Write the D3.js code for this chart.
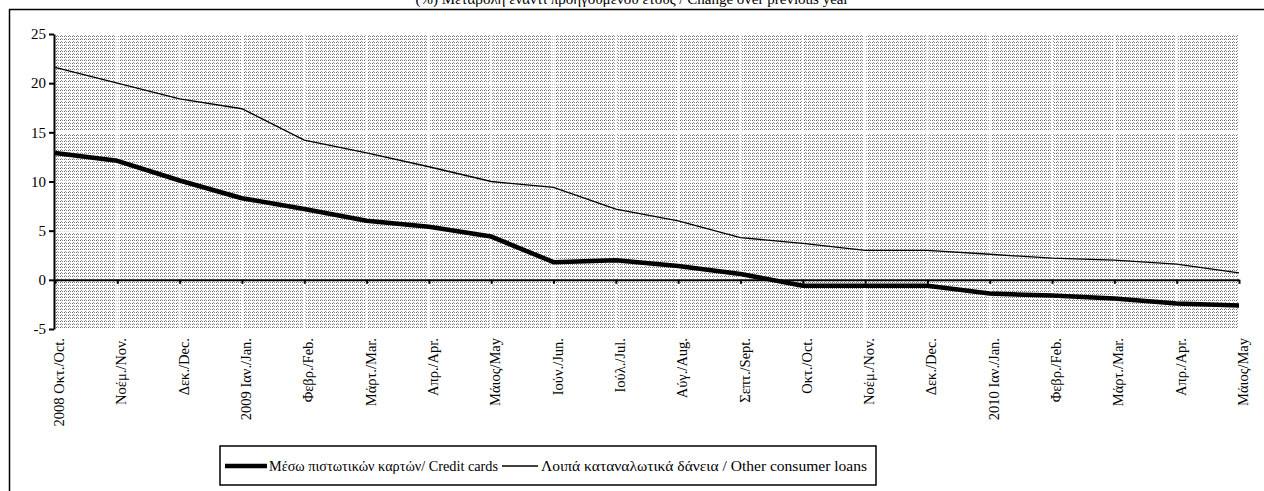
<!DOCTYPE html>
<html>
<head>
<meta charset="utf-8">
<script src="https://cdn.jsdelivr.net/npm/d3@7"></script>
<style>
  html, body { margin: 0; padding: 0; background: #fff; }
  svg { display: block; font-family: "Liberation Serif", "Times New Roman", serif; }
  svg text { font-family: "Liberation Serif", "Times New Roman", serif; }
</style>
</head>
<body>
<div id="chart"></div>
<script>
const categories = [
  "2008 Οκτ./Oct.", "Νοέμ./Nov.", "Δεκ./Dec.", "2009 Ιαν./Jan.", "Φεβρ./Feb.",
  "Μάρτ./Mar.", "Απρ./Apr.", "Μάιος/May", "Ιούν./Jun.", "Ιούλ./Jul.",
  "Αύγ./Aug.", "Σεπτ./Sept.", "Οκτ./Oct.", "Νοέμ./Nov.", "Δεκ./Dec.",
  "2010 Ιαν./Jan.", "Φεβρ./Feb.", "Μάρτ./Mar.", "Απρ./Apr.", "Μάιος/May"
];
const creditCards = [12.9, 12.1, 10.1, 8.3, 7.2, 6.0, 5.4, 4.4, 1.8, 2.0,
                     1.4, 0.6, -0.6, -0.6, -0.6, -1.4, -1.6, -1.9, -2.4, -2.6];
const otherLoans = [21.6, 20.0, 18.4, 17.4, 14.2, 12.9, 11.5, 10.0, 9.4, 7.2,
                    6.0, 4.3, 3.7, 3.0, 3.0, 2.6, 2.2, 2.0, 1.6, 0.7];
const yTicks = [-5, 0, 5, 10, 15, 20, 25];
const titleText = "(%) Μεταβολή έναντι προηγούμενου έτους / Change over previous year";
const legendLabels = ["Μέσω πιστωτικών καρτών/ Credit cards", "Λοιπά καταναλωτικά δάνεια / Other consumer loans"];

const W = 1264, H = 491;
const svg = d3.select("#chart").append("svg").attr("width", W).attr("height", H);

const defs = svg.append("defs");
const pat = defs.append("pattern").attr("id", "dots")
  .attr("patternUnits", "userSpaceOnUse").attr("width", 4).attr("height", 3);
pat.append("rect").attr("width", 4).attr("height", 3).attr("fill", "#fff");
pat.append("rect").attr("x", 0).attr("y", 0).attr("width", 1).attr("height", 1).attr("fill", "#666");
pat.append("rect").attr("x", 2).attr("y", 0).attr("width", 1).attr("height", 1).attr("fill", "#888");
pat.append("rect").attr("x", 1).attr("y", 2).attr("width", 1).attr("height", 1).attr("fill", "#999");

const idx = d3.range(categories.length);
const x = d3.scalePoint().domain(idx).range([55, 1239]);
const y = d3.scaleLinear().domain([-5, 25]).range([329, 34]);

// frame + title
svg.append("text").attr("x", 632).attr("y", 4).attr("text-anchor", "middle")
  .attr("font-size", 15).text(titleText);
svg.append("line").attr("x1", 9).attr("x2", W).attr("y1", 9.5).attr("y2", 9.5)
  .attr("stroke", "#000").attr("stroke-width", 1.5);
svg.append("line").attr("x1", 9.5).attr("x2", 9.5).attr("y1", 9).attr("y2", H)
  .attr("stroke", "#000").attr("stroke-width", 1.5);

// plot background
svg.append("rect").attr("x", x(0)).attr("y", y(25))
  .attr("width", x(idx.length - 1) - x(0)).attr("height", y(-5) - y(25))
  .attr("fill", "url(#dots)");
// white gridlines
svg.append("g").selectAll("line").data(idx.slice(1)).join("line")
  .attr("x1", d => x(d)).attr("x2", d => x(d)).attr("y1", y(25)).attr("y2", y(-5))
  .attr("stroke", "#fff").attr("stroke-width", 2);
svg.append("g").selectAll("line").data(yTicks.filter(v => v !== -5 && v !== 25)).join("line")
  .attr("x1", x(0)).attr("x2", x(idx.length - 1)).attr("y1", d => y(d)).attr("y2", d => y(d))
  .attr("stroke", "#fff").attr("stroke-width", 2);

// y axis
const yAxis = svg.append("g").attr("transform", `translate(${x(0) - 1},0)`)
  .call(d3.axisLeft(y).tickValues(yTicks).tickFormat(d => String(d))
    .tickSize(5).tickSizeOuter(0).tickPadding(3))
  .attr("font-family", "Liberation Serif").attr("font-size", 15);
yAxis.select(".domain").attr("stroke", "#000").attr("stroke-width", 2);
yAxis.selectAll(".tick line").attr("stroke", "#000").attr("stroke-width", 2);
yAxis.selectAll(".tick text").attr("fill", "#000");

// x axis at zero
const xAxis = svg.append("g").attr("transform", `translate(0,${y(0)})`)
  .call(d3.axisBottom(x).tickSize(4).tickSizeOuter(0).tickFormat(() => ""));
xAxis.select(".domain").attr("stroke", "#000").attr("stroke-width", 2);
xAxis.selectAll(".tick line").attr("stroke", "#000").attr("stroke-width", 2);

// category labels
svg.append("g").selectAll("text").data(idx).join("text")
  .attr("transform", d => `translate(${x(d) + 4},${y(-5) + 9}) rotate(-90)`)
  .attr("text-anchor", "end").attr("dy", "0.35em")
  .attr("font-size", 14.5).attr("fill", "#000")
  .text(d => categories[d]);

// lines
const line = d3.line().x((d, i) => x(i)).y(d => y(d));
svg.append("path").datum(otherLoans).attr("d", line)
  .attr("fill", "none").attr("stroke", "#000").attr("stroke-width", 1.3);
svg.append("path").datum(creditCards).attr("d", line)
  .attr("fill", "none").attr("stroke", "#000").attr("stroke-width", 4.5).attr("stroke-linejoin", "round");

// legend
const lg = svg.append("g");
lg.append("rect").attr("x", 220).attr("y", 446).attr("width", 656).attr("height", 39)
  .attr("fill", "#fff").attr("stroke", "#000").attr("stroke-width", 1.5);
lg.append("line").attr("x1", 225).attr("x2", 267).attr("y1", 466).attr("y2", 466)
  .attr("stroke", "#000").attr("stroke-width", 4.5);
lg.append("text").attr("x", 269).attr("y", 471).attr("font-size", 14.5)
  .attr("textLength", 229).attr("lengthAdjust", "spacingAndGlyphs").text(legendLabels[0]);
lg.append("line").attr("x1", 502).attr("x2", 538).attr("y1", 466).attr("y2", 466)
  .attr("stroke", "#000").attr("stroke-width", 1.3);
lg.append("text").attr("x", 541).attr("y", 471).attr("font-size", 15)
  .attr("textLength", 326).attr("lengthAdjust", "spacingAndGlyphs").text(legendLabels[1]);
</script>
</body>
</html>
